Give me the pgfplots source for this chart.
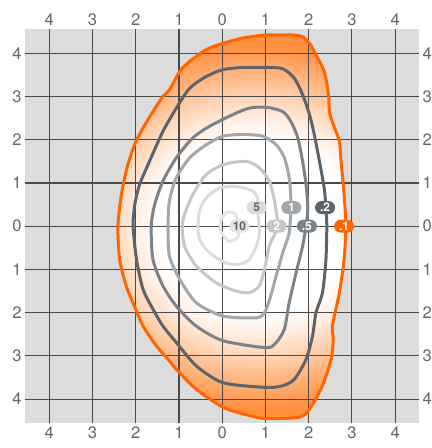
\documentclass[border=0pt]{standalone}
\usepackage{pgfplots}
\pgfplotsset{compat=1.18}
\usepackage{fontspec}
\setmainfont{TeX Gyre Heros}
\definecolor{bgcol}{HTML}{DCDCDC}
\definecolor{gridcol}{HTML}{4A4A4A}
\definecolor{tickcol}{HTML}{5E6873}
\definecolor{oline}{HTML}{FF6600}
\definecolor{ofill}{HTML}{FF9040}
\definecolor{cA}{HTML}{5C646B}
\definecolor{cB}{HTML}{7B8288}
\definecolor{cC}{HTML}{A2A7AB}
\definecolor{cD}{HTML}{C4C7CA}
\definecolor{cE}{HTML}{DADCDE}
\definecolor{cF}{HTML}{E2E4E6}
\definecolor{ltext}{HTML}{5A6570}
\pgfdeclareradialshading{orangerad}{\pgfpoint{0bp}{0bp}}{color(0bp)=(white); color(11.3bp)=(white); color(14.1bp)=(ofill!15); color(16.9bp)=(ofill!38); color(20.3bp)=(ofill!70); color(23.7bp)=(ofill); color(50bp)=(ofill)}
\tikzset{lab/.style={rounded corners=3.2pt, minimum width=10pt, minimum height=6.5pt, inner sep=0.6pt, font=\fontsize{6}{7}\selectfont\bfseries, text=white}}
\pgfplotsset{
  common/.style={
    scale only axis,
    width=197.5pt, height=197.5pt,
    xmin=-4.56, xmax=4.56, ymin=-4.56, ymax=4.56,
    axis line style={draw=none},
    major tick length=0pt,
    xtick={-4,-3,-2,-1,0,1,2,3,4},
    ytick={-4,-3,-2,-1,0,1,2,3,4},
    xticklabels={4,3,2,1,0,1,2,3,4},
    yticklabels={4,3,2,1,0,1,2,3,4},
    tick label style={font=\fontsize{8.3}{10}\selectfont, text=tickcol, inner sep=1.5pt},
  }
}
\begin{document}
\begin{tikzpicture}
% first axis: background, shaded area, bottom/left labels
\begin{axis}[
  common,
  name=ax,
  axis background/.style={fill=bgcol},
  unbounded coords=jump,
]
% the points after the jump only widen the shading box (along y=0) so that the gradient is round
\addplot[draw=none, shade, shading=orangerad, smooth cycle, tension=0.45]
coordinates {(2.86,0) (2.82,0.73) (2.75,1.5) (2.71,1.96) (2.57,2.35) (2.48,2.65) (2.46,3.04) (2.36,3.58) (2.17,3.96) (2.02,4.23) (1.86,4.38) (1.63,4.42) (1.02,4.42) (0.48,4.35) (0.02,4.23) (-0.37,4.08) (-0.75,3.81) (-0.98,3.58) (-1.22,3.15) (-1.37,3.0) (-1.6,2.65) (-1.83,2.27) (-2.02,1.9) (-2.2,1.35) (-2.33,0.73) (-2.41,0) (-2.37,-0.77) (-2.22,-1.38) (-2.03,-1.85) (-1.83,-2.31) (-1.52,-2.77) (-1.25,-3.08) (-1.06,-3.31) (-0.6,-3.77) (0.02,-4.19) (0.63,-4.38) (1.02,-4.45) (1.78,-4.42) (2.02,-4.23) (2.32,-3.69) (2.52,-3.08) (2.57,-2.62) (2.55,-2.31) (2.71,-1.54) (2.82,-0.77)
(nan,nan) (4.66,0) (-4.2,0) (4.66,0)};
\end{axis}
% second axis: grid, contours, labels, top/right tick labels
\begin{axis}[
  common,
  xticklabel pos=upper, yticklabel pos=right,
  grid=major,
  major grid style={draw=gridcol, line width=0.6pt},
]
% .1 contour
\addplot[draw=oline, line width=1.5pt, smooth cycle, tension=0.45]
coordinates {(2.86,0) (2.82,0.73) (2.75,1.5) (2.71,1.96) (2.57,2.35) (2.48,2.65) (2.46,3.04) (2.36,3.58) (2.17,3.96) (2.02,4.23) (1.86,4.38) (1.63,4.42) (1.02,4.42) (0.48,4.35) (0.02,4.23) (-0.37,4.08) (-0.75,3.81) (-0.98,3.58) (-1.22,3.15) (-1.37,3.0) (-1.6,2.65) (-1.83,2.27) (-2.02,1.9) (-2.2,1.35) (-2.33,0.73) (-2.41,0) (-2.37,-0.77) (-2.22,-1.38) (-2.03,-1.85) (-1.83,-2.31) (-1.52,-2.77) (-1.25,-3.08) (-1.06,-3.31) (-0.6,-3.77) (0.02,-4.19) (0.63,-4.38) (1.02,-4.45) (1.78,-4.42) (2.02,-4.23) (2.32,-3.69) (2.52,-3.08) (2.57,-2.62) (2.55,-2.31) (2.71,-1.54) (2.82,-0.77)};
% .2 contour
\addplot[draw=cA, line width=1.5pt, smooth cycle, tension=0.45]
coordinates {(2.42,0) (2.4,0.43) (2.36,0.88) (2.25,1.5) (2.13,2.12) (2.02,2.58) (1.86,3.04) (1.67,3.42) (1.4,3.64) (1.02,3.67) (0.48,3.67) (0.02,3.62) (-0.37,3.46) (-0.75,3.19) (-1.06,2.73) (-1.37,2.19) (-1.68,1.5) (-1.91,0.96) (-2.02,0.5) (-2.06,0) (-1.98,-0.77) (-1.83,-1.46) (-1.6,-1.92) (-1.37,-2.31) (-1.06,-2.69) (-0.6,-3.23) (0.02,-3.62) (1.02,-3.73) (1.4,-3.69) (1.67,-3.54) (1.94,-3.08) (2.09,-2.54) (2.17,-2.0) (2.32,-1.54) (2.4,-0.77)};
% .5 contour
\addplot[draw=cB, line width=1.5pt, smooth cycle, tension=0.45]
coordinates {(1.94,0) (1.98,0.42) (1.94,0.96) (1.86,1.5) (1.75,2.04) (1.59,2.42) (1.4,2.65) (1.02,2.75) (0.63,2.73) (0.25,2.58) (-0.29,2.31) (-0.68,2.04) (-1.06,1.58) (-1.37,1.04) (-1.56,0.5) (-1.64,0) (-1.6,-0.77) (-1.37,-1.38) (-1.06,-1.85) (-0.6,-2.31) (0.02,-2.65) (1.02,-2.81) (1.25,-2.69) (1.44,-2.38) (1.55,-1.77) (1.71,-1.08) (1.86,-0.46)};
% 1 contour
\addplot[draw=cC, line width=1.5pt, smooth cycle, tension=0.45]
coordinates {(1.59,0.4) (1.59,0.65) (1.55,1.12) (1.44,1.58) (1.25,1.88) (0.94,2.08) (0.48,2.12) (0.02,2.08) (-0.37,1.88) (-0.75,1.58) (-1.06,1.12) (-1.22,0.58) (-1.25,0) (-1.22,-0.69) (-0.98,-1.23) (-0.6,-1.77) (0.02,-2.08) (0.79,-2.12) (0.98,-2.0) (1.1,-1.69) (1.25,-1.15) (1.4,-0.62) (1.55,-0.15)};
% 2 contour
\addplot[draw=cD, line width=1.5pt, smooth cycle, tension=0.45]
coordinates {(1.28,0) (1.21,0.58) (1.09,1.04) (0.86,1.35) (0.55,1.5) (0.02,1.42) (-0.37,1.19) (-0.68,0.73) (-0.87,0.27) (-0.92,0) (-0.87,-0.46) (-0.6,-0.92) (-0.14,-1.31) (0.32,-1.5) (0.63,-1.54) (0.86,-1.38) (0.98,-1.0) (1.09,-0.46)};
% 5 contour
\addplot[draw=cE, line width=1.5pt, smooth cycle, tension=0.45]
coordinates {(0.82,0.4) (0.82,0.65) (0.71,0.81) (0.32,0.92) (-0.06,0.88) (-0.37,0.65) (-0.52,0.35) (-0.56,0) (-0.52,-0.31) (-0.29,-0.62) (0.09,-0.85) (0.4,-0.88) (0.63,-0.77) (0.79,-0.46) (0.86,-0.15)};
% 10 contour
\addplot[draw=cF, line width=1.5pt, smooth cycle, tension=0.45]
coordinates {(0.4,0) (0.3,0.28) (0.12,0.32) (-0.02,0.17) (-0.04,0) (-0.02,-0.15) (0.17,-0.35) (0.36,-0.25)};
% contour labels
\node[lab, fill=cF, text=ltext] at (axis cs:0.4,0) {10};
\node[lab, fill=cE, text=ltext] at (axis cs:0.8,0.43) {5};
\node[lab, fill=cD] at (axis cs:1.26,0) {2};
\node[lab, fill=cC] at (axis cs:1.6,0.43) {1};
\node[lab, fill=cB] at (axis cs:1.96,0) {.5};
\node[lab, fill=cA] at (axis cs:2.38,0.43) {.2};
\node[lab, fill=oline] at (axis cs:2.82,0) {.1};
\end{axis}
\pgfresetboundingbox
\path[use as bounding box] ([xshift=-12.5pt,yshift=-12.35pt]ax.south west) rectangle ([xshift=6pt,yshift=14.5pt]ax.north east);
\end{tikzpicture}
\end{document}
